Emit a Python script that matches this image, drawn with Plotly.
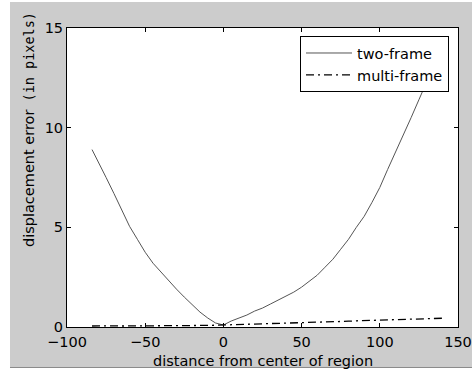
import plotly.graph_objects as go

# ---- data ----
distance = [-84, -80, -75, -70, -65, -60, -55, -50, -45, -40, -35, -30, -25, -20,
            -15, -10, -5, 0, 5, 10, 15, 20, 25, 30, 35, 40, 45, 50, 55, 60, 65,
            70, 75, 80, 85, 90, 95, 100, 105, 110, 115, 120, 125, 130, 135, 140]

two_frame = [8.9, 8.3, 7.5, 6.7, 5.9, 5.05, 4.4, 3.75, 3.2, 2.75, 2.3, 1.9, 1.5, 1.1,
             0.75, 0.45, 0.2, 0.1, 0.3, 0.45, 0.6, 0.8, 0.95, 1.15, 1.35, 1.55, 1.75,
             2.0, 2.3, 2.6, 3.0, 3.4, 3.9, 4.4, 5.0, 5.55, 6.25, 7.0, 7.9, 8.75, 9.6,
             10.5, 11.4, 12.3, 13.2, 14.1]

multi_frame = [0.05, 0.06, 0.05, 0.06, 0.05, 0.05, 0.06, 0.07, 0.06, 0.05, 0.06, 0.05,
               0.05, 0.06, 0.07, 0.08, 0.09, 0.10, 0.11, 0.13, 0.14, 0.15, 0.16, 0.17,
               0.19, 0.20, 0.21, 0.22, 0.23, 0.25, 0.26, 0.27, 0.28, 0.29, 0.31, 0.32,
               0.33, 0.34, 0.35, 0.37, 0.38, 0.39, 0.40, 0.41, 0.43, 0.44]

series_names = ["two-frame", "multi-frame"]
x_ticks = [-100, -50, 0, 50, 100, 150]
y_ticks = [0, 5, 10, 15]

FONT = "DejaVu Sans"
GRAY = "#cccccc"

fig = go.Figure()
fig.add_trace(go.Scatter(x=distance, y=two_frame, mode="lines", name=series_names[0],
                         line=dict(color="#555555", width=1)))
fig.add_trace(go.Scatter(x=distance, y=multi_frame, mode="lines", name=series_names[1],
                         line=dict(color="black", width=1.3, dash="8px,4px,2px,4px")))

axis_common = dict(showgrid=False, zeroline=False, showline=True, linecolor="black",
                   linewidth=1, mirror="allticks", ticks="inside", ticklen=4,
                   tickcolor="black", automargin=False,
                   tickfont=dict(family=FONT, size=14.5, color="black"))

fig.update_xaxes(range=[-100, 150], tickvals=x_ticks, ticklabelstandoff=2, **axis_common)
fig.update_yaxes(range=[0, 15], tickvals=y_ticks, **axis_common)

fig.update_layout(
    template="none",
    width=472, height=370, autosize=False,
    margin=dict(l=67, r=14, t=28, b=43, pad=0, autoexpand=False),
    paper_bgcolor="white", plot_bgcolor="white",
    font=dict(family=FONT, size=14.5, color="black"),
    showlegend=True,
    legend=dict(x=0.977, y=0.973, xanchor="right", yanchor="top",
                bgcolor="white", bordercolor="black", borderwidth=1,
                font=dict(family=FONT, size=14.5, color="black"),
                tracegroupgap=0, itemwidth=46),
)

# grey figure window behind the axes (page is white around it), plot area white
fig.add_shape(type="rect", xref="paper", yref="paper", x0=-0.1458, x1=1.0358,
              y0=-0.1338, y1=1.087, fillcolor=GRAY, line=dict(width=0), layer="below")
fig.add_shape(type="rect", xref="paper", yref="paper", x0=0, x1=1, y0=0, y1=1,
              fillcolor="white", line=dict(width=0), layer="below")
fig.add_shape(type="line", xref="paper", yref="paper", x0=-0.1458, x1=1.0358,
              y0=-0.1354, y1=-0.1354, line=dict(color="#8a8a8a", width=1))

# axis titles
fig.add_annotation(text="distance from center of region", xref="paper", yref="paper",
                   x=0.5, y=-0.114, xanchor="center", yanchor="middle", showarrow=False,
                   font=dict(family=FONT, size=14.5, color="black"))
fig.add_annotation(text="displacement error<span style='font-family:DejaVu Sans Mono;font-size:13.5px'> (in pixels)</span>",
                   xref="paper", yref="paper", x=-0.097, y=0.659, xanchor="center",
                   yanchor="middle", textangle=-90, showarrow=False,
                   font=dict(family=FONT, size=14.5, color="black"))

fig.write_html("out.html",
               config={"displayModeBar": False, "responsive": False},
               post_script="document.body.style.margin='0';document.body.style.overflow='hidden';")
